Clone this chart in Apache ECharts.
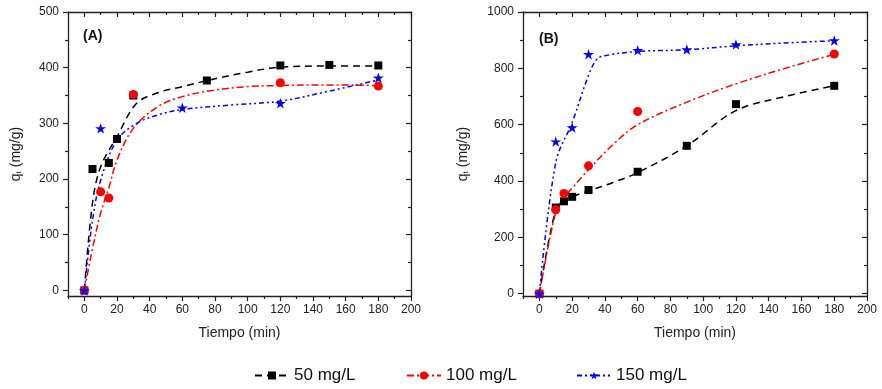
<!DOCTYPE html>
<html>
<head>
<meta charset="utf-8">
<script src="https://cdn.jsdelivr.net/npm/echarts@6/dist/echarts.min.js"></script>
<style>
	html, body { margin: 0; padding: 0; background: #fff; }
	#chart { width: 882px; height: 389px; }
</style>
</head>
<body>
<div id="chart"></div>
<script>
// (A) measured points
var tA50 = [0, 5, 15, 20, 30, 75, 120, 150, 180];
var qA50 = [0, 218, 229, 272, 350, 377, 404, 405, 404];
var tA100 = [0, 10, 15, 30, 120, 180];
var qA100 = [0, 177, 166, 352, 373, 367];
var tA150 = [0, 10, 60, 120, 180];
var qA150 = [0, 291, 328, 336, 382];

// (A) fitted curves
var fitTA50 = [0, 5, 10, 20, 32, 45, 60, 80, 100, 120, 150, 180];
var fitQA50 = [0, 157, 222, 276, 336, 355, 366, 380, 392, 401, 403, 403];
var fitTA100 = [0, 5, 10, 15, 20, 30, 45, 60, 80, 100, 120, 150, 180];
var fitQA100 = [0, 75, 139, 184, 234, 291, 330, 348, 360, 366, 368, 369, 368];
var fitTA150 = [0, 5, 10, 20, 32, 45, 60, 90, 120, 150, 180];
var fitQA150 = [0, 126, 198, 270, 300, 315, 325, 333, 340, 358, 378];

// (B) measured points
var tB50 = [0, 10, 15, 20, 30, 60, 90, 120, 180];
var qB50 = [0, 306, 328, 344, 368, 433, 525, 673, 738];
var tB100 = [0, 10, 15, 30, 60, 180];
var qB100 = [0, 298, 356, 454, 647, 851];
var tB150 = [0, 10, 20, 30, 60, 90, 120, 180];
var qB150 = [0, 540, 590, 850, 864, 867, 885, 899];

// (B) fitted curves
var fitTB50 = [0, 10, 15, 20, 30, 45, 60, 90, 120, 150, 180];
var fitQB50 = [0, 300, 330, 345, 365, 395, 430, 525, 650, 700, 738];
var fitTB100 = [0, 10, 15, 20, 30, 45, 60, 90, 120, 150, 180];
var fitQB100 = [0, 290, 340, 375, 440, 530, 600, 680, 745, 800, 850];
var fitTB150 = [0, 10, 20, 30, 35, 40, 60, 90, 120, 150, 180];
var fitQB150 = [0, 466, 608, 775, 832, 845, 860, 866, 880, 890, 898];

var names = ['50 mg/L', '100 mg/L', '150 mg/L'];
var xMajor = [0, 20, 40, 60, 80, 100, 120, 140, 160, 180, 200];
var xMinor = [-10, 10, 30, 50, 70, 90, 110, 130, 150, 170, 190];
var yMajorA = [0, 100, 200, 300, 400, 500];
var yMinorA = [50, 150, 250, 350, 450];
var yMajorB = [0, 200, 400, 600, 800, 1000];
var yMinorB = [100, 300, 500, 700, 900];

var font = 'Liberation Sans, Arial, sans-serif';
var ink = '#222';

function pairs(t, q) {
	var out = [];
	for (var i = 0; i < t.length; i++) {
		out.push([t[i], q[i]]);
	}
	return out;
}

// four axes per side: main, minor, opposite main, opposite minor
function makeAxes(dim, grid, min, max, majors, minors, name, nameGap) {
	var near = dim == 'x' ? 'bottom' : 'left';
	var far = dim == 'x' ? 'top' : 'right';
	var base = {
		gridIndex: grid, type: 'value', min: min, max: max,
		splitLine: { show: false }
	};
	function ax(pos, vals, len, inside, showLine, label) {
		var a = Object.assign({}, base, {
			position: pos,
			axisLine: { show: showLine, onZero: false, lineStyle: { color: ink, width: 1.3 } },
			axisTick: { show: true, inside: inside, length: len, customValues: vals, lineStyle: { color: ink, width: 1.2 } },
			axisLabel: { show: false }
		});
		if (label) {
			a.axisLabel = {
				show: true, customValues: vals, color: ink, fontSize: 12, fontFamily: font,
				margin: dim == 'x' ? 8 : 9,
				formatter: function(v) { return String(v); }
			};
			a.name = name;
			a.nameLocation = 'middle';
			a.nameGap = nameGap;
			a.nameTextStyle = dim == 'x' ?
				{ color: ink, fontSize: 14, fontFamily: font } :
				{ color: ink, fontSize: 14, fontFamily: font, rich: {
					q: { fontSize: 14, fontFamily: font, color: ink, lineHeight: 18, verticalAlign: 'bottom' },
					s: { fontSize: 8, fontFamily: font, color: ink, lineHeight: 14, verticalAlign: 'bottom' }
				} };
		}
		return a;
	}
	return [
		ax(near, majors, 5, false, true, true),
		ax(near, minors, 3, false, false, false),
		ax(far, majors, 5, true, true, false),
		ax(far, minors, 3, true, false, false)
	];
}

var yName = '{q|q}{s|t}{q| (mg/g)}';
var xAxes = makeAxes('x', 0, -10, 200, xMajor, xMinor, 'Tiempo (min)', 30)
	.concat(makeAxes('x', 1, -10, 200, xMajor, xMinor, 'Tiempo (min)', 30));
var yAxes = makeAxes('y', 0, -10, 500, yMajorA, yMinorA, yName, 45)
	.concat(makeAxes('y', 1, -8, 1000, yMajorB, yMinorB, yName, 53));

var starPath = 'path://M50 0 L61.17 34.63 L97.55 34.55 L68.07 55.87 L79.39 90.45 L50 69 L20.61 90.45 L31.93 55.87 L2.45 34.55 L38.83 34.63 Z';
var colors = ['#000000', '#ff0000', '#0000ff'];
var symbols = ['rect', 'circle', starPath];
var sizes = [8, 9, 11];
var dashes = [[7, 5], [7, 3, 2, 3], [5, 3, 2, 3, 2, 3]];

function fitLine(i, grid, data) {
	return {
		name: names[i], type: 'line', xAxisIndex: grid * 4, yAxisIndex: grid * 4,
		data: data, smooth: 0.35, symbol: symbols[i], symbolSize: sizes[i], showSymbol: false,
		symbolKeepAspect: true, silent: true, z: 2,
		itemStyle: { color: colors[i] },
		lineStyle: { color: colors[i], width: 1.5, type: dashes[i] }
	};
}

function points(i, grid, data) {
	return {
		name: names[i], type: 'scatter', xAxisIndex: grid * 4, yAxisIndex: grid * 4,
		data: data, symbol: symbols[i], symbolSize: sizes[i], symbolKeepAspect: true, z: 3 + i,
		itemStyle: { color: colors[i], opacity: 1 }
	};
}

function legendAt(i, left) {
	return {
		data: [names[i]], left: left, top: 362, itemWidth: 34, itemHeight: 10, itemGap: 0,
		textStyle: { color: '#111', fontSize: 17, fontFamily: font }
	};
}

var mychart = echarts.init(document.getElementById('chart'), null, { renderer: 'canvas' });

let option = {
	animation: false,
	backgroundColor: '#fff',
	grid: [
		{ left: 68, top: 12, right: 471, bottom: 93 },
		{ left: 523, top: 12, right: 15, bottom: 93 }
	],
	xAxis: xAxes,
	yAxis: yAxes,
	legend: [legendAt(0, 249), legendAt(1, 401), legendAt(2, 571)],
	graphic: [
		{ type: 'text', left: 83, top: 29, style: { text: '(A)', font: 'bold 14px Liberation Sans, Arial, sans-serif', fill: '#111' } },
		{ type: 'text', left: 539, top: 32, style: { text: '(B)', font: 'bold 14px Liberation Sans, Arial, sans-serif', fill: '#111' } }
	],
	series: [
		fitLine(0, 0, pairs(fitTA50, fitQA50)),
		fitLine(1, 0, pairs(fitTA100, fitQA100)),
		fitLine(2, 0, pairs(fitTA150, fitQA150)),
		points(0, 0, pairs(tA50, qA50)),
		points(1, 0, pairs(tA100, qA100)),
		points(2, 0, pairs(tA150, qA150)),
		fitLine(0, 1, pairs(fitTB50, fitQB50)),
		fitLine(1, 1, pairs(fitTB100, fitQB100)),
		fitLine(2, 1, pairs(fitTB150, fitQB150)),
		points(0, 1, pairs(tB50, qB50)),
		points(1, 1, pairs(tB100, qB100)),
		points(2, 1, pairs(tB150, qB150))
	]
};

mychart.setOption(option);
</script>
</body>
</html>
